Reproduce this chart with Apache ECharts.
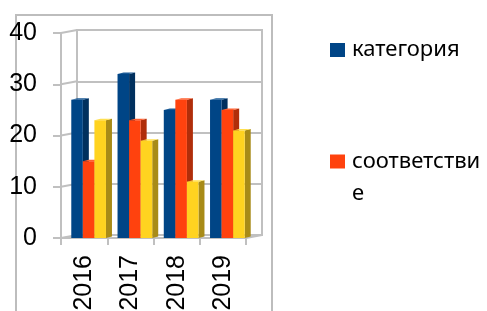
<!DOCTYPE html>
<html>
<head>
<meta charset="utf-8">
<script src="https://cdn.jsdelivr.net/npm/echarts@6/dist/echarts.min.js"></script>
<style>
html,body{margin:0;padding:0;background:#fff;}
#main{width:487px;height:311px;}
</style>
</head>
<body>
<div id="main"></div>
<script>
// данные
var years = ['2016', '2017', '2018', '2019'];
var seriesNames = ['категория', 'соответствие', 'ряд 3'];
var kategoriya = [27, 32, 25, 27];
var sootvetstvie = [15, 23, 27, 25];
var ryad3 = [23, 19, 11, 21];
var yTicks = [0, 10, 20, 30, 40];

var faceColors = ['#004586', '#ff420e', '#ffd320'];
var sideColors = ['#00305e', '#b02e0a', '#a88b17'];
var topColors = ['#1a5a96', '#ff6030', '#ffe050'];
var wallColor = '#c0c0c0';

// смещение задней стенки
var DX = 16, DY = -3;

function toPairs(arr) {
	var out = [];
	for (var i = 0; i < arr.length; i++) {
		out.push([i, arr[i]]);
	}
	return out;
}

// столбик с боковой гранью и крышкой
function barRenderer(si) {
	return function (params, api) {
		var idx = api.value(0);
		var base = api.coord([idx, 0]);
		var top = api.coord([idx, api.value(1)]);
		var band = api.size([1, 0])[0];
		var bw = band * 0.25;
		var x0 = base[0] - 1.5 * bw + si * bw + 4.5;
		var x1 = x0 + bw;
		var yb = base[1], yt = top[1];
		var dx = 6, dy = -1.5;
		return {
			type: 'group',
			children: [{
				type: 'polygon',
				shape: { points: [[x1, yb], [x1 + dx, yb + dy], [x1 + dx, yt + dy], [x1, yt]] },
				style: { fill: sideColors[si] }
			}, {
				type: 'polygon',
				shape: { points: [[x0, yt], [x0 + dx, yt + dy], [x1 + dx, yt + dy], [x1, yt]] },
				style: { fill: topColors[si] }
			}, {
				type: 'rect',
				shape: { x: x0, y: yt, width: bw, height: yb - yt },
				style: { fill: faceColors[si] }
			}]
		};
	};
}

// диагонали от передней оси к задней стенке
function connectorRenderer(params, api) {
	var v = api.value(1);
	var y = api.coord([0, v])[1];
	var cs = params.coordSys;
	var kids = [{
		type: 'line',
		shape: { x1: cs.x, y1: y, x2: cs.x + DX, y2: y + DY },
		style: { stroke: wallColor, lineWidth: 2 }
	}];
	if (v === 0) {
		kids.push({
			type: 'line',
			shape: { x1: cs.x + cs.width, y1: y, x2: cs.x + cs.width + DX, y2: y + DY },
			style: { stroke: wallColor, lineWidth: 2 }
		});
	}
	return { type: 'group', children: kids };
}

var axisFont = { fontFamily: 'Liberation Sans', fontSize: 25, color: '#000' };

var option = {
	backgroundColor: '#fff',
	animation: false,
	graphic: [{
		type: 'rect',
		shape: { x: 16, y: 15, width: 256, height: 330 },
		style: { fill: 'none', stroke: '#bdbdbd', lineWidth: 2 },
		z: -10
	}],
	legend: [{
		data: [seriesNames[0]],
		orient: 'vertical',
		left: 330,
		top: 33.5,
		padding: 0,
		icon: 'rect',
		itemWidth: 15,
		itemHeight: 14,
		textStyle: { fontFamily: 'Noto Sans', fontSize: 22, lineHeight: 33, color: '#000', padding: [0, 0, 0, 2] }
	}, {
		data: [seriesNames[1]],
		orient: 'vertical',
		left: 330,
		top: 113.5,
		padding: 0,
		icon: 'rect',
		itemWidth: 15,
		itemHeight: 14,
		formatter: function (name) {
			return ' \nсоответстви\nе';
		},
		textStyle: { fontFamily: 'Noto Sans', fontSize: 22, lineHeight: 32, color: '#000', padding: [0, 0, 0, 2] }
	}],
	grid: [{
		left: 61, top: 33, width: 185, height: 205,
		outerBoundsMode: 'none', containLabel: false
	}, {
		left: 77, top: 30, width: 185, height: 205,
		outerBoundsMode: 'none', containLabel: false,
		show: true, borderColor: wallColor, borderWidth: 2, backgroundColor: 'transparent'
	}],
	xAxis: [{
		type: 'category',
		gridIndex: 0,
		data: years,
		axisLine: { show: true, lineStyle: { color: wallColor, width: 2 } },
		axisTick: { show: true, length: 7, lineStyle: { color: wallColor, width: 2 } },
		axisLabel: Object.assign({ rotate: 90, margin: 17, interval: 0 }, axisFont),
		splitLine: { show: false }
	}, {
		type: 'category',
		gridIndex: 1,
		data: years,
		axisLine: { show: false },
		axisTick: { show: false },
		axisLabel: { show: false },
		splitLine: { show: false }
	}],
	yAxis: [{
		type: 'value',
		gridIndex: 0,
		min: 0, max: 40, interval: 10,
		axisLine: { show: true, lineStyle: { color: wallColor, width: 2 } },
		axisTick: { show: true, length: 8, lineStyle: { color: wallColor, width: 2 } },
		axisLabel: Object.assign({ margin: 24, padding: [8, 0, 0, 0] }, axisFont),
		splitLine: { show: false }
	}, {
		type: 'value',
		gridIndex: 1,
		min: 0, max: 40, interval: 10,
		axisLine: { show: false },
		axisTick: { show: false },
		axisLabel: { show: false },
		splitLine: { show: true, lineStyle: { color: wallColor, width: 2 } }
	}],
	series: [{
		type: 'custom',
		name: 'стенка',
		xAxisIndex: 0, yAxisIndex: 0,
		renderItem: connectorRenderer,
		data: yTicks.map(function (v) { return [0, v]; }),
		encode: { x: 0, y: 1 },
		silent: true,
		z: 1
	}, {
		type: 'custom',
		name: seriesNames[0],
		xAxisIndex: 0, yAxisIndex: 0,
		itemStyle: { color: faceColors[0] },
		renderItem: barRenderer(0),
		data: toPairs(kategoriya),
		encode: { x: 0, y: 1 },
		z: 3
	}, {
		type: 'custom',
		name: seriesNames[1],
		xAxisIndex: 0, yAxisIndex: 0,
		itemStyle: { color: faceColors[1] },
		renderItem: barRenderer(1),
		data: toPairs(sootvetstvie),
		encode: { x: 0, y: 1 },
		z: 4
	}, {
		type: 'custom',
		name: seriesNames[2],
		xAxisIndex: 0, yAxisIndex: 0,
		itemStyle: { color: faceColors[2] },
		renderItem: barRenderer(2),
		data: toPairs(ryad3),
		encode: { x: 0, y: 1 },
		z: 5
	}]
};

var myChart = echarts.init(document.getElementById('main'));
myChart.setOption(option);
</script>
</body>
</html>
